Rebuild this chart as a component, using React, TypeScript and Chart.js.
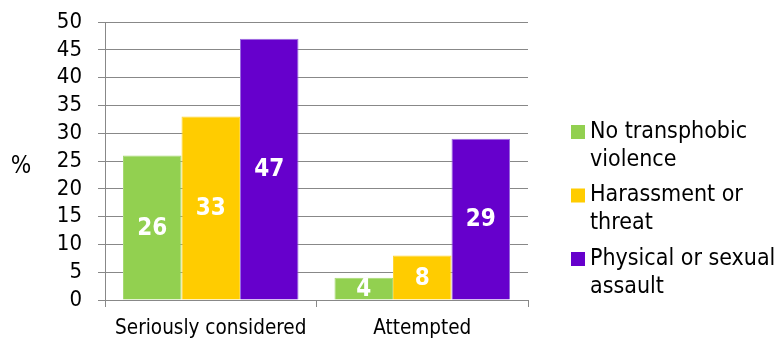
import React, { useEffect, useRef } from "react";
import { Chart, registerables } from "chart.js";

Chart.register(...registerables);

const categories = ["Seriously considered", "Attempted"];
const seriesNames = ["No transphobic violence", "Harassment or threat", "Physical or sexual assault"];
const legendLines = [
  ["No transphobic", "violence"],
  ["Harassment or", "threat"],
  ["Physical or sexual", "assault"],
];
const noViolence = [26, 4];
const harassment = [33, 8];
const physicalAssault = [47, 29];
const seriesColors = ["#92D050", "#FFCC00", "#6600CC"];
const seriesBorders = ["#A6DA72", "#FFD633", "#9A6AE0"];
const yMin = 0;
const yMax = 50;
const yStep = 5;
const yAxisTitle = "%";

const FONT = "'DejaVu Sans Condensed', 'DejaVu Sans', sans-serif";

const dataLabelPlugin = {
  id: "dataLabels",
  afterDatasetsDraw(chart: any) {
    const ctx = chart.ctx;
    ctx.save();
    ctx.font = `bold 24px ${FONT}`;
    ctx.fillStyle = "#FFFFFF";
    ctx.textAlign = "center";
    ctx.textBaseline = "middle";
    chart.data.datasets.forEach((ds: any, di: number) => {
      const meta = chart.getDatasetMeta(di);
      meta.data.forEach((el: any, i: number) => {
        const v = ds.data[i];
        ctx.fillText(String(v), el.x, (el.y + el.base) / 2 + 1);
      });
    });
    ctx.restore();
  },
};

const sideLegendPlugin = {
  id: "sideLegend",
  afterDraw(chart: any) {
    const ctx = chart.ctx;
    const area = chart.chartArea;
    ctx.save();
    ctx.font = `23px ${FONT}`;
    ctx.textBaseline = "middle";
    ctx.textAlign = "left";
    const boxX = area.right + 43;
    const firstY = area.top + 110;
    chart.data.datasets.forEach((ds: any, i: number) => {
      const cy = firstY + i * 63.5;
      ctx.fillStyle = ds.backgroundColor;
      ctx.fillRect(boxX, cy - 7, 14, 14);
      ctx.fillStyle = "#000000";
      const lines = legendLines[i];
      lines.forEach((ln: string, j: number) => {
        ctx.fillText(ln, boxX + 19, cy + j * 28);
      });
    });
    ctx.restore();
  },
};

const yTitlePlugin = {
  id: "yTitle",
  afterDraw(chart: any) {
    const ctx = chart.ctx;
    const area = chart.chartArea;
    ctx.save();
    ctx.font = `24px ${FONT}`;
    ctx.fillStyle = "#000000";
    ctx.textAlign = "center";
    ctx.textBaseline = "middle";
    ctx.fillText(yAxisTitle, 21, (area.top + area.bottom) / 2 + 6);
    ctx.restore();
  },
};

export default function App() {
  const ref = useRef<HTMLCanvasElement | null>(null);

  useEffect(() => {
    if (!ref.current) return;
    Chart.defaults.font.family = FONT;
    const seriesData = [noViolence, harassment, physicalAssault];
    const chart = new Chart(ref.current, {
      type: "bar",
      data: {
        labels: categories,
        datasets: seriesNames.map((name, i) => ({
          label: name,
          data: seriesData[i],
          backgroundColor: seriesColors[i],
          borderColor: seriesBorders[i],
          borderWidth: 1,
          categoryPercentage: 0.83,
          barPercentage: 1,
        })),
      },
      options: {
        animation: false,
        responsive: false,
        maintainAspectRatio: false,
        layout: { padding: { left: 40, right: 252, top: 22, bottom: 0 } },
        plugins: {
          legend: { display: false },
          tooltip: { enabled: false },
        },
        scales: {
          x: {
            afterFit(scale: any) {
              scale.height = 39;
              scale.paddingLeft = 0;
              scale.paddingRight = 0;
            },
            grid: {
              offset: true,
              drawOnChartArea: false,
              drawTicks: true,
              tickLength: 7,
              color: "#888888",
            },
            border: { color: "#888888" },
            ticks: {
              color: "#000000",
              font: { size: 20.5, family: FONT },
              padding: 9,
              maxRotation: 0,
              autoSkip: false,
            },
          },
          y: {
            min: yMin,
            max: yMax,
            afterFit(scale: any) {
              scale.width = 65;
              scale.paddingTop = 0;
              scale.paddingBottom = 0;
            },
            grid: {
              color: "#888888",
              tickLength: 7,
              drawTicks: true,
            },
            border: { color: "#888888" },
            ticks: {
              stepSize: yStep,
              color: "#000000",
              font: { size: 22, family: FONT },
              padding: 16,
              autoSkip: false,
            },
          },
        },
      },
      plugins: [dataLabelPlugin, sideLegendPlugin, yTitlePlugin],
    });
    return () => chart.destroy();
  }, []);

  return (
    <div style={{ position: "fixed", left: 0, top: 0, width: 780, height: 339, background: "#fff" }}>
      <canvas ref={ref} width={780} height={339} style={{ display: "block", width: 780, height: 339 }} />
    </div>
  );
}
